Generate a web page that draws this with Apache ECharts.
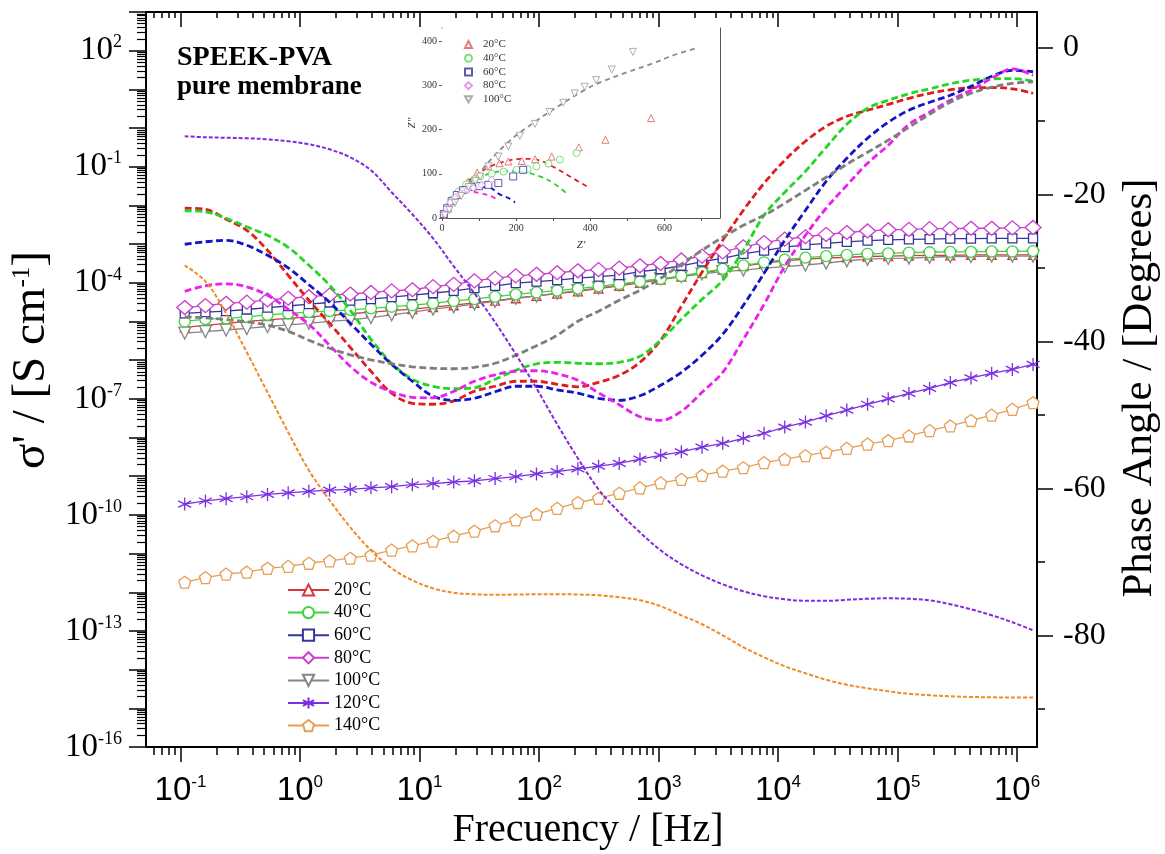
<!DOCTYPE html>
<html>
<head>
<meta charset="utf-8">
<script src="https://cdn.jsdelivr.net/npm/echarts@6/dist/echarts.min.js"></script>
<style>
  html, body { margin: 0; padding: 0; background: #fff; }
  #chart { width: 1165px; height: 854px; }
</style>
</head>
<body>
<div id="chart"></div>
<script>
// ---- measured data ----------------------------------------------------
// frequencies of the sweep (Hz)
const freqHz = [0.1086, 0.1618, 0.2411, 0.3592, 0.5352, 0.7974, 1.188, 1.770, 2.636, 3.928,
  5.852, 8.718, 12.99, 19.35, 28.83, 42.95, 63.99, 95.33, 142.0, 211.6,
  315.2, 469.6, 699.7, 1042, 1553, 2314, 3447, 5134, 7649, 11396,
  16977, 25293, 37684, 56144, 83636, 124615, 185653, 276568, 412000, 613900,
  914500, 1362300];

const temps = ['20°C', '40°C', '60°C', '80°C', '100°C', '120°C', '140°C'];

// real conductivity, log10(σ' / S cm^-1)
const logSigma20 = [-5.15, -5.10, -5.05, -5.00, -4.96, -4.92, -4.88, -4.84, -4.80, -4.76, -4.72, -4.68, -4.63, -4.58, -4.52, -4.46, -4.40, -4.34, -4.28, -4.22, -4.15, -4.08, -4.00, -3.92, -3.84, -3.75, -3.66, -3.57, -3.49, -3.43, -3.39, -3.36, -3.34, -3.32, -3.31, -3.30, -3.29, -3.29, -3.28, -3.28, -3.28, -3.28];
const logSigma40 = [-5.00, -4.94, -4.92, -4.88, -4.83, -4.79, -4.76, -4.73, -4.70, -4.66, -4.62, -4.58, -4.53, -4.47, -4.42, -4.36, -4.30, -4.25, -4.20, -4.15, -4.09, -4.03, -3.97, -3.90, -3.82, -3.73, -3.64, -3.55, -3.47, -3.40, -3.35, -3.31, -3.28, -3.25, -3.24, -3.22, -3.21, -3.20, -3.20, -3.19, -3.19, -3.18];
const logSigma60 = [-4.79, -4.76, -4.73, -4.69, -4.64, -4.60, -4.55, -4.51, -4.46, -4.42, -4.37, -4.32, -4.27, -4.21, -4.14, -4.08, -4.01, -3.97, -3.93, -3.88, -3.84, -3.80, -3.71, -3.65, -3.56, -3.45, -3.37, -3.25, -3.17, -3.08, -3.02, -2.98, -2.94, -2.91, -2.89, -2.88, -2.87, -2.86, -2.86, -2.85, -2.85, -2.85];
const logSigma80 = [-4.64, -4.59, -4.53, -4.50, -4.44, -4.40, -4.36, -4.32, -4.29, -4.25, -4.21, -4.18, -4.10, -4.04, -3.95, -3.88, -3.82, -3.78, -3.74, -3.69, -3.66, -3.62, -3.56, -3.50, -3.41, -3.31, -3.20, -3.07, -2.96, -2.87, -2.81, -2.75, -2.70, -2.66, -2.63, -2.62, -2.60, -2.60, -2.59, -2.59, -2.58, -2.57];
const logSigma100 = [-5.30, -5.26, -5.22, -5.18, -5.13, -5.09, -5.05, -5.00, -4.96, -4.90, -4.83, -4.76, -4.68, -4.62, -4.55, -4.48, -4.40, -4.34, -4.27, -4.20, -4.13, -4.06, -3.96, -3.90, -3.84, -3.77, -3.71, -3.67, -3.62, -3.58, -3.54, -3.49, -3.43, -3.39, -3.37, -3.36, -3.34, -3.32, -3.32, -3.31, -3.31, -3.31];
const logSigma120 = [-9.72, -9.64, -9.58, -9.53, -9.47, -9.43, -9.39, -9.36, -9.34, -9.30, -9.27, -9.22, -9.19, -9.15, -9.12, -9.06, -9.01, -8.94, -8.88, -8.81, -8.74, -8.67, -8.56, -8.46, -8.37, -8.25, -8.15, -8.02, -7.89, -7.73, -7.60, -7.44, -7.29, -7.14, -7.00, -6.86, -6.73, -6.58, -6.46, -6.34, -6.24, -6.11];
const logSigma140 = [-11.74, -11.62, -11.53, -11.48, -11.38, -11.33, -11.25, -11.19, -11.12, -11.04, -10.91, -10.80, -10.68, -10.55, -10.42, -10.28, -10.13, -9.98, -9.83, -9.68, -9.57, -9.44, -9.30, -9.17, -9.08, -8.98, -8.87, -8.78, -8.65, -8.56, -8.47, -8.38, -8.28, -8.17, -8.08, -7.96, -7.82, -7.70, -7.56, -7.42, -7.27, -7.10];

// phase angle (degrees)
const phase20 = [-21.90, -22.04, -23.40, -24.90, -27.62, -31.02, -34.42, -37.55, -40.82, -44.08, -47.07, -48.44, -48.57, -48.10, -46.80, -46.12, -45.44, -45.44, -45.85, -46.19, -45.58, -44.63, -42.86, -39.86, -35.24, -30.61, -26.26, -22.18, -18.50, -15.37, -12.79, -10.75, -9.39, -8.57, -7.76, -6.94, -6.26, -5.78, -5.51, -5.48, -5.65, -6.26];
const phase40 = [-22.24, -22.38, -23.27, -24.42, -25.58, -27.21, -29.66, -32.38, -35.78, -39.73, -42.99, -45.17, -46.12, -46.46, -46.33, -45.17, -43.95, -43.06, -42.86, -42.99, -43.06, -42.86, -42.04, -39.86, -37.01, -34.29, -31.70, -27.62, -22.86, -19.73, -16.87, -13.61, -10.48, -8.30, -7.21, -6.33, -5.65, -4.97, -4.49, -4.29, -4.26, -4.63];
const phase60 = [-26.80, -26.46, -26.26, -26.94, -28.30, -30.00, -32.31, -34.69, -37.55, -40.41, -43.13, -45.44, -47.48, -48.03, -47.76, -46.87, -46.12, -46.12, -46.60, -47.07, -47.76, -48.03, -47.41, -45.99, -44.22, -41.90, -39.05, -35.10, -30.75, -26.26, -22.18, -18.23, -15.10, -12.38, -10.20, -8.57, -7.48, -6.53, -5.31, -3.95, -3.13, -3.33];
const phase80 = [-33.20, -32.45, -32.18, -32.59, -33.74, -35.65, -37.69, -40.54, -43.40, -45.58, -46.87, -47.62, -47.69, -46.80, -45.44, -44.56, -44.08, -44.01, -44.42, -45.31, -47.01, -48.64, -50.27, -50.75, -49.52, -46.94, -44.22, -39.73, -34.97, -29.80, -25.58, -21.90, -18.78, -15.78, -13.33, -10.48, -8.84, -7.21, -5.85, -4.22, -2.93, -3.81];
const phase100 = [-36.69, -36.80, -37.05, -37.35, -37.82, -38.64, -39.86, -40.95, -41.84, -42.52, -43.06, -43.47, -43.67, -43.74, -43.54, -42.99, -41.90, -40.61, -39.18, -37.28, -35.92, -34.42, -33.06, -31.43, -29.52, -27.62, -25.85, -24.22, -22.86, -21.22, -19.46, -17.69, -15.92, -14.29, -12.65, -10.88, -9.12, -7.48, -6.26, -5.44, -4.90, -4.69];
const phase120 = [-12.11, -12.24, -12.31, -12.38, -12.52, -12.79, -13.20, -13.88, -14.97, -16.73, -19.73, -22.72, -25.99, -29.80, -33.47, -37.41, -41.77, -46.39, -51.29, -55.92, -60.14, -63.27, -65.99, -68.44, -70.34, -71.84, -73.06, -74.01, -74.69, -75.10, -75.31, -75.31, -75.17, -75.03, -74.97, -75.03, -75.24, -75.78, -76.46, -77.28, -78.23, -79.32];
const phase140 = [-29.66, -31.84, -36.19, -41.50, -46.94, -52.38, -57.55, -61.63, -65.31, -68.44, -70.88, -72.52, -73.61, -74.22, -74.42, -74.49, -74.46, -74.42, -74.42, -74.45, -74.56, -74.83, -75.24, -76.05, -77.28, -78.50, -80.00, -81.63, -82.99, -84.22, -85.17, -86.05, -86.73, -87.21, -87.62, -87.96, -88.16, -88.30, -88.39, -88.44, -88.48, -88.48];

// Nyquist plot: measured points [Z', Z''] and fitted arcs
const nyq20 = [[6, 8], [16, 22], [30, 40], [48, 60], [70, 82], [95, 103], [125, 117], [155, 124], [179, 128], [215, 129], [251, 133], [296, 139], [369, 160], [441, 177], [564, 226]];
const nyq40 = [[6, 10], [15, 25], [28, 42], [45, 60], [65, 76], [88, 88], [103, 94], [134, 100], [166, 105], [201, 109], [231, 111], [255, 117], [287, 123], [318, 132], [363, 147]];
const nyq60 = [[5, 9], [14, 22], [26, 38], [40, 52], [57, 63], [80, 70], [100, 72], [125, 75], [152, 79], [192, 94], [219, 109]];
const nyq80 = [[5, 10], [12, 22], [22, 35], [35, 47], [50, 56], [68, 63], [85, 68], [107, 75], [134, 86]];
const nyq100 = [[8, 6], [20, 18], [35, 34], [52, 50], [72, 70], [90, 84], [103, 94], [125, 117], [152, 139], [179, 162], [210, 186], [251, 213], [290, 240], [327, 261], [358, 282], [385, 297], [416, 312], [458, 336], [515, 376]];
const fit20 = [[0, 0], [30, 38], [70, 82], [120, 112], [170, 128], [220, 134], [260, 131], [300, 116], [345, 94], [390, 72]];
const fit40 = [[0, 0], [30, 42], [70, 78], [120, 98], [170, 106], [210, 105], [264, 94], [300, 79], [340, 53]];
const fit60 = [[0, 0], [25, 38], [55, 60], [90, 70], [125, 69], [157, 53], [180, 45], [197, 35]];
const fit80 = [[0, 0], [20, 35], [45, 53], [75, 60], [103, 56], [134, 49], [150, 40]];
const fit100 = [[0, 0], [50, 52], [100, 102], [175, 169], [251, 218], [327, 260], [385, 290], [430, 308], [500, 330], [569, 350], [630, 370], [685, 384]];

// axis tick labels
const xDecades = [-1, 0, 1, 2, 3, 4, 5, 6];
const ySigmaLabelExp = [-16, -13, -10, -7, -4, -1, 2];
const phaseLabels = [0, -20, -40, -60, -80];
const phaseMinorTicks = [-10, -30, -50, -70, -90];
const zReTicks = [0, 100, 200, 300, 400, 500, 600, 700];
const zReLabels = [0, 200, 400, 600];
const zImTicks = [0, 100, 200, 300, 400];
const zImMinor = [0, 50, 100, 150, 200, 250, 300, 350, 400];

// axis extents
const F_MIN = 0.0515, F_MAX = 1.47e6;
const SIGMA_EXP_MIN = -16, SIGMA_EXP_MAX = 3;
const PHASE_MIN = -95.2, PHASE_MAX = 4.8;

// ---- styling ----------------------------------------------------------
const SERIF = "'Liberation Serif','Times New Roman',serif";
const SANS_N = "'Liberation Sans Narrow','Liberation Sans',Arial,sans-serif";
const sigmaColors = ['#d9363e', '#3fd23f', '#34349c', '#c93fc9', '#858585', '#7a2fe3', '#e69f55'];
const phaseColors = ['#e01c1c', '#22d622', '#1414c4', '#ec20ec', '#7e7e7e', '#8428de', '#f08a24'];
const nyqColors = ['#de5a5a', '#5ad85a', '#34349c', '#dd80dd', '#9a9a9a'];

const SYM_TRI_DOWN = 'path://M-1,-0.85L1,-0.85L0,0.9Z';
const SYM_PENTAGON = 'path://M0,-1L0.951,-0.309L0.588,0.809L-0.588,0.809L-0.951,-0.309Z';
const SYM_STAR = 'path://M0,-1L0,1M-0.866,-0.5L0.866,0.5M-0.866,0.5L0.866,-0.5';
const sigmaSymbols = ['triangle', 'circle', 'rect', 'diamond', SYM_TRI_DOWN, SYM_STAR, SYM_PENTAGON];
const sigmaSizes = [9, 11, 9, [16, 14], 12, 13, 12];

const logF = freqHz.map(f => Math.log10(f));
const X_MIN = Math.log10(F_MIN), X_MAX = Math.log10(F_MAX);

function logMinor(lo, hi) {
  const out = [];
  for (let n = Math.floor(lo) - 1; n <= Math.ceil(hi); n++) {
    for (let k = 2; k <= 9; k++) {
      const v = n + Math.log10(k);
      if (v >= lo && v <= hi) out.push(v);
    }
  }
  return out;
}
const yDecadeTicks = [];
for (let e = SIGMA_EXP_MIN; e <= SIGMA_EXP_MAX; e++) yDecadeTicks.push(e);

const powLabel = v => '{b|10}{s|' + Math.round(v) + '}';

const sigmaSets = [logSigma20, logSigma40, logSigma60, logSigma80, logSigma100, logSigma120, logSigma140];
const phaseSets = [phase20, phase40, phase60, phase80, phase100, phase120, phase140];
const nyqSets = [nyq20, nyq40, nyq60, nyq80, nyq100];
const fitSets = [fit20, fit40, fit60, fit80, fit100];

const pairUp = ys => logF.map((x, i) => [x, ys[i]]);

// draw order of the conductivity curves (bottom to top)
const sigmaOrder = [0, 4, 1, 2, 3, 5, 6];

const series = [];
sigmaOrder.forEach(i => {
  series.push({
    name: temps[i], type: 'line', xAxisIndex: 0, yAxisIndex: 0,
    data: pairUp(sigmaSets[i]),
    symbol: sigmaSymbols[i], symbolSize: sigmaSizes[i],
    lineStyle: { color: sigmaColors[i], width: 1.3 },
    itemStyle: { color: '#ffffff', borderColor: sigmaColors[i], borderWidth: 1.3 },
    emphasis: { disabled: true }, z: 3
  });
});
phaseSets.forEach((p, i) => {
  const thin = i >= 5;
  series.push({
    name: 'phase ' + temps[i], type: 'line', xAxisIndex: 0, yAxisIndex: 2,
    data: pairUp(p), symbol: 'none', smooth: 0.35,
    lineStyle: { color: phaseColors[i], width: thin ? 2 : 2.8, type: thin ? [4, 2] : [7, 3.5] },
    emphasis: { disabled: true }, z: 4
  });
});
fitSets.forEach((d, i) => {
  series.push({
    name: 'fit ' + temps[i], type: 'line', xAxisIndex: 4, yAxisIndex: 4,
    data: d, symbol: 'none', smooth: 0.4,
    lineStyle: { color: i === 4 ? '#8a8a8a' : phaseColors[i], width: 1.8, type: [5, 4] },
    emphasis: { disabled: true }, z: 6
  });
});
nyqSets.forEach((d, i) => {
  series.push({
    name: temps[i] + ' ', type: 'scatter', xAxisIndex: 4, yAxisIndex: 4,
    data: d, symbol: sigmaSymbols[i], symbolSize: 7,
    itemStyle: { color: '#ffffff', borderColor: nyqColors[i], borderWidth: 1 },
    emphasis: { disabled: true }, z: 7
  });
});

const black = { color: '#000', width: 2 };
const tickStyle = { color: '#000', width: 1.5 };
const hidden = { show: false };

const option = {
  animation: false,
  backgroundColor: '#ffffff',
  grid: [
    { left: 146, right: 128, top: 12, bottom: 107, outerBoundsMode: 'none' },
    { left: 442, top: 28, width: 278, height: 190, show: true, backgroundColor: '#ffffff', borderWidth: 0, outerBoundsMode: 'none', z: 5 }
  ],
  xAxis: [
    { // frequency, bottom: decades + labels
      gridIndex: 0, type: 'value', min: X_MIN, max: X_MAX, position: 'bottom',
      axisLine: { onZero: false, lineStyle: black },
      axisTick: { customValues: xDecades, length: 15, lineStyle: tickStyle },
      axisLabel: {
        customValues: xDecades, formatter: powLabel, margin: 27, color: '#000',
        rich: {
          b: { fontFamily: SANS_N, fontSize: 33, color: '#000' },
          s: { fontFamily: SANS_N, fontSize: 17, color: '#000', padding: [0, 0, 16, 0] }
        }
      },
      splitLine: hidden
    },
    { // frequency, bottom: minor ticks
      gridIndex: 0, type: 'value', min: X_MIN, max: X_MAX, position: 'bottom',
      axisLine: { show: false, onZero: false },
      axisTick: { customValues: logMinor(X_MIN, X_MAX), length: 8, lineStyle: tickStyle },
      axisLabel: hidden, splitLine: hidden
    },
    { // frequency, top mirror
      gridIndex: 0, type: 'value', min: X_MIN, max: X_MAX, position: 'top',
      axisLine: { onZero: false, lineStyle: black },
      axisTick: { customValues: xDecades, length: 15, inside: true, lineStyle: tickStyle },
      axisLabel: hidden, splitLine: hidden
    },
    {
      gridIndex: 0, type: 'value', min: X_MIN, max: X_MAX, position: 'top',
      axisLine: { show: false, onZero: false },
      axisTick: { customValues: logMinor(X_MIN, X_MAX), length: 6, inside: true, lineStyle: tickStyle },
      axisLabel: hidden, splitLine: hidden
    },
    { // inset Z'
      gridIndex: 1, type: 'value', min: 0, max: 750, position: 'bottom',
      axisLine: { onZero: false, lineStyle: { color: '#555', width: 1 } },
      axisTick: { customValues: zReTicks, length: 3, lineStyle: { color: '#555' } },
      axisLabel: { customValues: zReLabels, margin: 5, fontFamily: SERIF, fontSize: 10, color: '#333' },
      splitLine: hidden,
      name: "Z'", nameLocation: 'middle', nameGap: 22,
      nameTextStyle: { fontFamily: SERIF, fontSize: 11, fontStyle: 'italic', color: '#333' }
    },
    {
      gridIndex: 1, type: 'value', min: 0, max: 750, position: 'top',
      axisLine: { onZero: false, lineStyle: { color: '#555', width: 1 } },
      axisTick: { customValues: zReTicks, length: 3, inside: true, lineStyle: { color: '#555' } },
      axisLabel: hidden, splitLine: hidden
    }
  ],
  yAxis: [
    { // conductivity decades + labels
      gridIndex: 0, type: 'value', min: SIGMA_EXP_MIN, max: SIGMA_EXP_MAX, position: 'left',
      axisLine: { onZero: false, lineStyle: black },
      axisTick: { customValues: yDecadeTicks, length: 17, lineStyle: tickStyle },
      axisLabel: {
        customValues: ySigmaLabelExp, formatter: powLabel, margin: 24, color: '#000',
        rich: {
          b: { fontFamily: SERIF, fontSize: 33, color: '#000' },
          s: { fontFamily: SERIF, fontSize: 18, color: '#000', padding: [0, 0, 16, 0] }
        }
      },
      splitLine: hidden
    },
    {
      gridIndex: 0, type: 'value', min: SIGMA_EXP_MIN, max: SIGMA_EXP_MAX, position: 'left',
      axisLine: { show: false, onZero: false },
      axisTick: { customValues: logMinor(SIGMA_EXP_MIN, SIGMA_EXP_MAX), length: 9, lineStyle: { color: '#000', width: 1.2 } },
      axisLabel: hidden, splitLine: hidden
    },
    { // phase angle
      gridIndex: 0, type: 'value', min: PHASE_MIN, max: PHASE_MAX, position: 'right',
      axisLine: { onZero: false, lineStyle: black },
      axisTick: { customValues: phaseLabels, length: 16, lineStyle: tickStyle },
      axisLabel: { customValues: phaseLabels, margin: 26, fontFamily: SERIF, fontSize: 32, color: '#000' },
      splitLine: hidden
    },
    {
      gridIndex: 0, type: 'value', min: PHASE_MIN, max: PHASE_MAX, position: 'right',
      axisLine: { show: false, onZero: false },
      axisTick: { customValues: phaseMinorTicks, length: 8, lineStyle: tickStyle },
      axisLabel: hidden, splitLine: hidden
    },
    { // inset Z''
      gridIndex: 1, type: 'value', min: 0, max: 430, position: 'left',
      axisLine: { onZero: false, lineStyle: { color: '#555', width: 1 } },
      axisTick: { customValues: zImTicks, length: 3, lineStyle: { color: '#555' } },
      axisLabel: { customValues: zImTicks, margin: 5, fontFamily: SERIF, fontSize: 10, color: '#333' },
      splitLine: hidden,
      name: "Z''", nameLocation: 'middle', nameGap: 22, nameRotate: 90,
      nameTextStyle: { fontFamily: SERIF, fontSize: 11, fontStyle: 'italic', color: '#333' }
    },
    {
      gridIndex: 1, type: 'value', min: 0, max: 430, position: 'right',
      axisLine: { onZero: false, lineStyle: { color: '#555', width: 1 } },
      axisTick: { customValues: zImMinor, length: 3, inside: true, lineStyle: { color: '#555' } },
      axisLabel: hidden, splitLine: hidden
    }
  ],
  legend: [
    {
      data: temps, orient: 'vertical', left: 287, top: 581, padding: 0, z: 10,
      itemWidth: 41, itemHeight: 14, itemGap: 4.6, selectedMode: false,
      textStyle: { fontFamily: SERIF, fontSize: 18, color: '#000' }
    },
    {
      data: temps.slice(0, 5).map(t => t + ' '), orient: 'vertical', left: 464, top: 39, padding: 0, z: 10,
      itemWidth: 7, itemHeight: 7, itemGap: 2.7, selectedMode: false,
      formatter: n => n.trim(),
      textStyle: { fontFamily: SERIF, fontSize: 11, color: '#333', padding: [0, 0, 0, 6] }
    }
  ],
  graphic: [
    { type: 'text', x: 177, y: 58, silent: true, z: 10,
      style: { text: 'SPEEK-PVA', fontFamily: SERIF, fontSize: 28, fontWeight: 'bold', fill: '#000', align: 'left', verticalAlign: 'middle' } },
    { type: 'text', x: 177, y: 87, silent: true, z: 10,
      style: { text: 'pure membrane', fontFamily: SERIF, fontSize: 27, fontWeight: 'bold', fill: '#000', align: 'left', verticalAlign: 'middle' } },
    { type: 'text', x: 588, y: 830, silent: true,
      style: { text: 'Frecuency / [Hz]', fontFamily: SERIF, fontSize: 40, fill: '#000', align: 'center', verticalAlign: 'middle' } },
    { type: 'text', x: 32, y: 360, rotation: Math.PI / 2, silent: true,
      style: {
        text: "σ' / [S cm{s|-1}]", fontFamily: SERIF, fontSize: 47, fill: '#000', align: 'center', verticalAlign: 'middle',
        rich: { s: { fontFamily: SERIF, fontSize: 25, fill: '#000', padding: [0, 0, 20, 0] } }
      } },
    { type: 'text', x: 1140, y: 388, rotation: Math.PI / 2, silent: true,
      style: { text: 'Phase Angle / [Degrees]', fontFamily: SERIF, fontSize: 43, fill: '#000', align: 'center', verticalAlign: 'middle' } }
  ],
  series: series
};

const chart = echarts.init(document.getElementById('chart'), null, { renderer: 'canvas' });
chart.setOption(option);
</script>
</body>
</html>
